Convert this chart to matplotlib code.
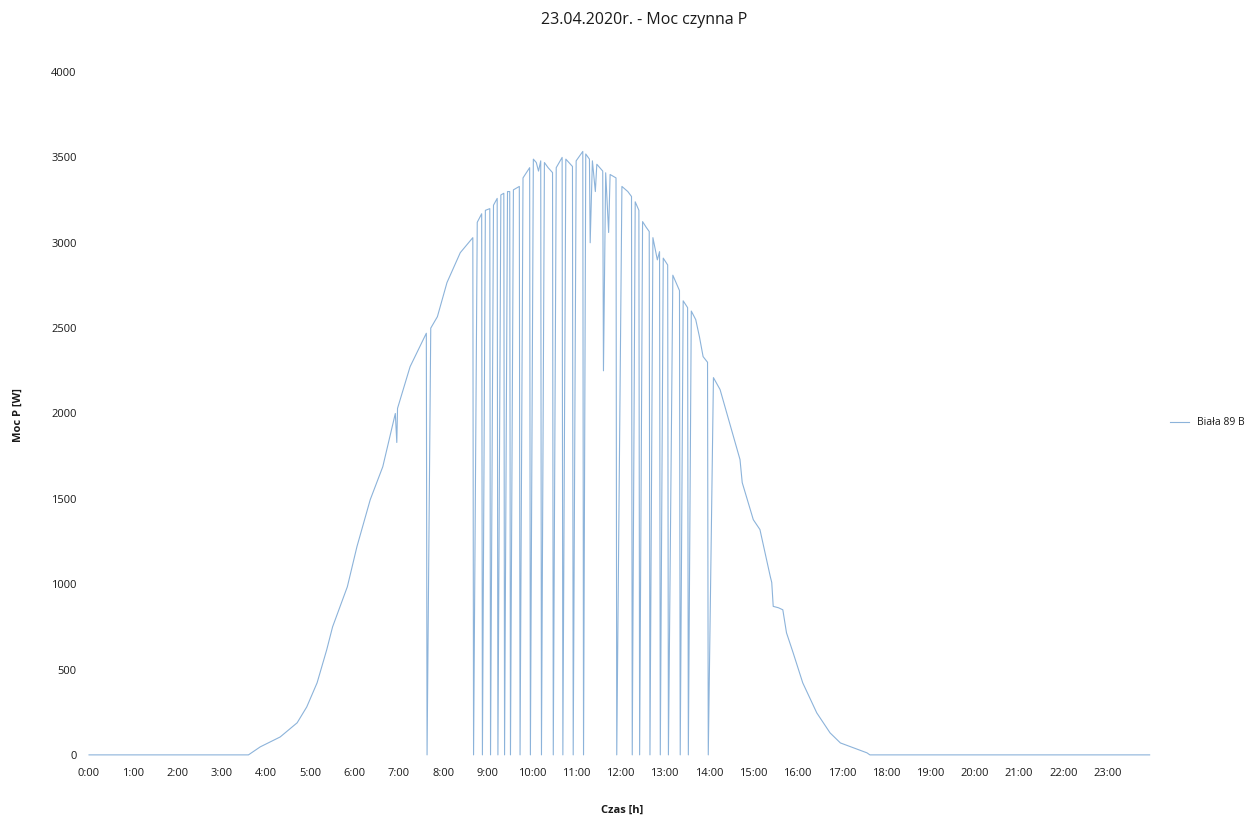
import matplotlib
matplotlib.use("Agg")
import matplotlib.pyplot as plt
import numpy as np

plt.rcParams['font.family'] = ['Open Sans', 'DejaVu Sans']

# pomiar mocy czynnej - rano (narastanie)
czas_rano = ["0:00", "3:36", "3:52", "4:19", "4:42", "4:55", "5:09", "5:22", "5:30",
             "5:50", "6:03", "6:21", "6:38", "6:55", "6:57", "6:58", "7:15", "7:37",
             "7:38", "7:43", "7:52", "8:05", "8:23", "8:40", "8:41"]
moc_rano = [0, 0, 47, 105, 188, 281, 422, 615, 750,
            985, 1220, 1495, 1688, 2000, 1830, 2030, 2274, 2470,
            0, 2500, 2567, 2767, 2942, 3030, 0]

# okolo poludnia - czeste wylaczenia falownika
czas_poludnie = ["8:46", "8:52", "8:53", "8:57", "9:03", "9:04", "9:08", "9:13", "9:14",
                 "9:18", "9:22", "9:23", "9:27", "9:30", "9:31", "9:35", "9:43", "9:44",
                 "9:48", "9:57", "9:58", "10:02", "10:06", "10:09", "10:12", "10:13",
                 "10:17", "10:22", "10:28", "10:29", "10:33", "10:41", "10:42", "10:46",
                 "10:55", "10:56", "11:00", "11:09", "11:10", "11:13", "11:18", "11:19",
                 "11:22", "11:26", "11:28", "11:36", "11:37", "11:40", "11:44", "11:46",
                 "11:54", "11:55", "12:02", "12:10", "12:15", "12:16", "12:20", "12:25",
                 "12:26", "12:30", "12:35", "12:39", "12:40", "12:44", "12:50", "12:53",
                 "12:54", "12:58", "13:04", "13:05", "13:11", "13:20", "13:21", "13:25",
                 "13:31", "13:32", "13:36", "13:42", "13:47", "13:52", "13:58", "13:59"]
moc_poludnie = [3120, 3170, 0, 3190, 3200, 0, 3220, 3260, 0,
                3280, 3290, 0, 3300, 3300, 0, 3310, 3330, 0,
                3380, 3440, 0, 3490, 3470, 3420, 3480, 0,
                3470, 3440, 3411, 0, 3440, 3500, 0, 3490,
                3447, 0, 3480, 3535, 0, 3520, 3490, 3000,
                3480, 3300, 3460, 3420, 2250, 3410, 3060, 3400,
                3380, 0, 3330, 3300, 3271, 0, 3240, 3190,
                0, 3124, 3090, 3066, 0, 3030, 2900, 2948,
                0, 2910, 2870, 0, 2810, 2720, 0, 2660,
                2620, 0, 2600, 2550, 2450, 2333, 2300, 0]

# popoludnie (opadanie)
czas_wieczor = ["14:06", "14:15", "14:42", "14:45", "15:00", "15:09", "15:23", "15:25",
                "15:27", "15:34", "15:40", "15:45", "15:54", "16:07", "16:26", "16:44",
                "16:58", "17:34", "17:38", "23:57"]
moc_wieczor = [2210, 2140, 1730, 1595, 1378, 1320, 1045, 1010,
               870, 862, 850, 715, 598, 422, 246, 129,
               70, 12, 0, 0]

godziny = [f"{h}:00" for h in range(24)]


def na_godziny(lista):
    wynik = []
    for t in lista:
        h, m = t.split(":")
        wynik.append(int(h) + int(m) / 60)
    return np.array(wynik)


czas = np.concatenate([na_godziny(czas_rano), na_godziny(czas_poludnie), na_godziny(czas_wieczor)])
moc = np.array(moc_rano + moc_poludnie + moc_wieczor)

fig = plt.figure(figsize=(12.45, 8.18), dpi=100)
ax = fig.add_axes([0.0683, 0.0709, 0.864, 0.841])

ax.plot(czas, moc, color='#8cb3da', linewidth=0.8, label='Biała 89 B')

ax.set_xlim(-0.09, 24.2)
ax.set_ylim(-30, 4000)
ax.set_xticks(range(24))
ax.set_xticklabels(godziny)
ax.set_yticks(range(0, 4001, 500))

for s in ax.spines.values():
    s.set_visible(False)
ax.tick_params(axis='both', length=0, labelsize=8, colors='#1a1a1a')
ax.tick_params(axis='x', pad=6)
ax.tick_params(axis='y', pad=6)

# tytul i opisy osi
fig.text(0.517, 1 - 20 / 818, '23.04.2020r. - Moc czynna P', fontsize=11.5,
         color='#1a1a1a', ha='center', va='center')
fig.text(622 / 1245, 1 - 810 / 818, 'Czas [h]', fontsize=8, fontweight='bold',
         color='#1a1a1a', ha='center', va='center')
fig.text(18 / 1245, 1 - 415 / 818, 'Moc P [W]', fontsize=8, fontweight='bold',
         color='#1a1a1a', ha='center', va='center', rotation=90)

ax.legend(loc='center left', bbox_to_anchor=(1.0, 0.49), frameon=False,
          fontsize=7.5, handlelength=1.8, labelcolor='#1a1a1a')

fig.savefig('out.png', dpi=100)
